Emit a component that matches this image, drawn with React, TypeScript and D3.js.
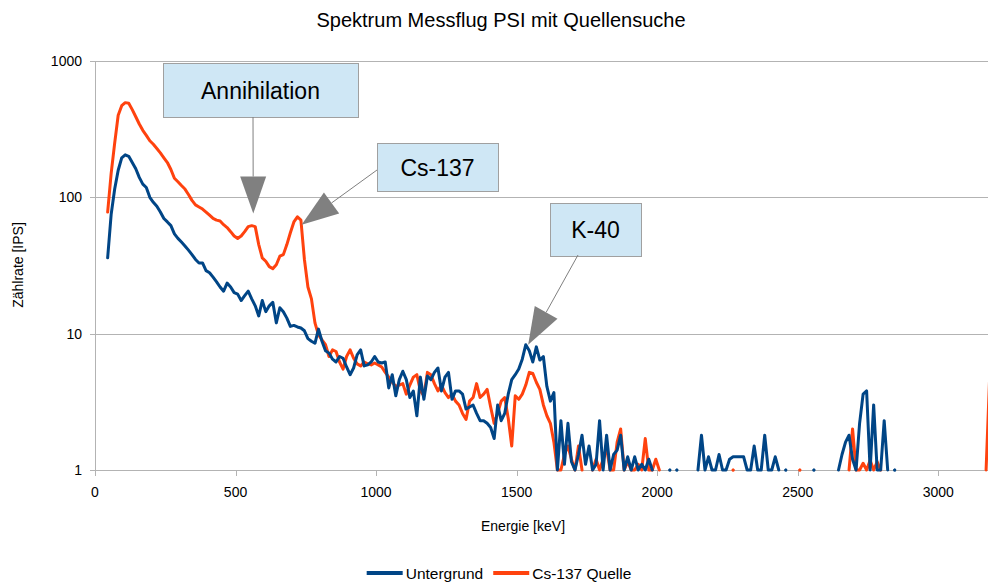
import React, { useRef, useEffect } from 'react';
import * as d3 from 'd3';

// channel grid of the spectrum (keV)
const CHANNEL_START = 45;
const CHANNEL_WIDTH = 12.5;

// count rate [IPS] per channel, 0 = no counts (not drawn on log axis)
const untergrund = [
  36, 75, 115, 158, 195, 205, 200, 180, 162, 140,
  125, 118, 100, 92, 86, 78, 70, 66, 62, 54,
  50, 47, 44, 41, 38, 35, 33, 33, 29, 28,
  26, 24, 22, 20.5, 23.5, 22, 20, 19.5, 17.5, 19,
  20.5, 18, 16, 13.5, 17.5, 14.5, 16, 17, 12, 15.5,
  14.5, 13, 11.3, 11.5, 11.2, 11, 10.5, 9.2, 8.8, 8.5,
  10.8, 8.8, 7.5, 7.2, 6.5, 6.2, 6.8, 6.6, 5.7, 5.0,
  5.6, 7.0, 7.6, 5.8, 5.9, 6.2, 6.8, 6.2, 6.1, 6.2,
  4.0, 5.0, 3.5, 4.6, 5.3, 4.6, 3.4, 3.8, 2.5, 4.8,
  3.3, 4.9, 4.6, 5.2, 5.6, 3.8, 4.8, 5.2, 3.3, 3.8,
  3.8, 3.6, 2.8, 2.9, 3.0, 2.6, 2.3, 2.3, 2.2, 2.05,
  1.7, 3.0, 2.3, 2.6, 3.6, 4.6, 5.0, 5.5, 6.5, 8.3,
  7.5, 6.2, 8.0, 6.4, 6.8, 4.1, 3.2, 3.7, 1.0, 2.3,
  1.1, 2.2, 1.15, 1.0, 1.3, 1.8, 1.1, 1.5, 1.0, 1.1,
  2.3, 1.0, 1.8, 1.0, 1.3, 1.4, 1.8, 1.0, 1.25, 1.0,
  1.25, 1.0, 1.1, 1.0, 1.2, 1.0, 0, 0, 0, 0,
  1, 0, 1, 0, 0, 0, 0, 0, 1.0, 1.8,
  1.0, 1.25, 1.0, 1.0, 1.3, 1.0, 1.0, 1.2, 1.25, 1.25,
  1.25, 1.25, 1.0, 1.0, 1.5, 1.0, 1.0, 1.8, 1.0, 1.0,
  1.25, 1.0, 0, 1, 0, 0, 0, 0, 0, 0,
  0, 1, 0, 0, 0, 0, 0, 0, 1.0, 1.3,
  1.6, 1.8, 1.2, 1.0, 2.2, 3.6, 3.8, 1.0, 3.0, 1.0,
  1.0, 2.3, 1.0, 0, 1, 0, 0, 0, 0, 0,
  0, 0, 0, 0, 0, 0, 0, 0, 0, 0,
  0, 0, 0, 0, 0, 0, 0, 0, 0, 0,
  0, 0,
];

const quelle = [
  78, 150, 250, 400, 470, 495, 490, 440, 390, 345,
  310, 285, 260, 245, 228, 212, 195, 180, 160, 138,
  130, 122, 115, 105, 95, 88, 85, 82, 78, 74,
  70, 68, 67, 63, 60, 56, 52, 50, 52, 56,
  61, 62, 61, 45, 36, 34, 31, 30, 32, 37,
  38, 45, 55, 66, 72, 68, 35, 22, 18, 12,
  9.8, 9.0, 8.3, 6.8, 7.6, 7.4, 6.2, 5.5, 6.8, 7.6,
  6.6, 6.0, 5.8, 6.2, 6.0, 5.9, 6.1, 5.9, 5.7, 5.2,
  4.8, 4.4, 4.1, 4.2, 4.3, 3.6, 4.2, 4.8, 5.0, 3.8,
  3.5, 5.2, 5.0, 4.3, 3.8, 4.2, 3.7, 3.4, 3.6, 3.2,
  3.0, 2.6, 2.35, 3.2, 3.4, 4.3, 3.4, 3.6, 3.9, 2.9,
  2.2, 2.6, 3.2, 3.4, 2.4, 1.5, 3.5, 3.3, 3.6, 4.2,
  5.2, 5.1, 4.4, 3.9, 3.0, 2.5, 2.2, 1.6, 1.0, 1.0,
  1.3, 1.5, 1.2, 1.0, 1.5, 1.0, 0, 0, 1.0, 1.2,
  1.0, 1.2, 1.45, 1.0, 1.0, 1.6, 2.0, 1.0, 1.15, 1.0,
  1.0, 1.1, 1.0, 1.7, 1.0, 1.0, 1.2, 1.0, 0, 0,
  0, 0, 0, 0, 0, 0, 0, 0, 0, 0,
  0, 0, 0, 0, 0, 0, 0, 0, 1, 0,
  0, 0, 0, 0, 0, 0, 0, 0, 0, 0,
  0, 0, 0, 0, 0, 0, 0, 1, 0, 0,
  0, 0, 0, 0, 0, 0, 0, 0, 0, 0,
  0, 1.0, 2.0, 1.0, 1.0, 1.12, 1.0, 1.18, 1.0, 1.15,
  1.0, 0, 0, 0, 0, 0, 0, 0, 0, 0,
  0, 0, 0, 0, 0, 0, 0, 0, 0, 0,
  0, 0, 0, 0, 0, 0, 0, 0, 0, 0,
  1.0, 4.7,
];

const seriesNames = ['Untergrund', 'Cs-137 Quelle'];
const seriesColors = ['#004586', '#ff420e'];

const xTicks = [0, 500, 1000, 1500, 2000, 2500, 3000];
const yTicks = [1, 10, 100, 1000];

// callouts: target peak (energy, rate), box in px, where the leader leaves the box
const callouts = [
  { text: 'Annihilation', energy: 563, rate: 76, box: { x: 163, y: 63, w: 195, h: 54 }, from: [253, 117] },
  { text: 'Cs-137', energy: 735, rate: 63, box: { x: 377, y: 143, w: 121, h: 48 }, from: [377, 170] },
  { text: 'K-40', energy: 1541, rate: 8.3, box: { x: 550, y: 203, w: 91, h: 53 }, from: [578, 255] },
];

const FONT = '"Liberation Sans", Arial, sans-serif';

const App = () => {
  const svgRef = useRef<SVGSVGElement>(null);

  useEffect(() => {
    const width = 988, height = 582;
    const plot = { left: 95, right: 988, top: 61, bottom: 470 };

    const svg = d3.select(svgRef.current);
    svg.selectAll('*').remove();
    svg.attr('width', width).attr('height', height).style('font-family', FONT);

    const x = d3.scaleLinear().domain([0, 3200]).range([plot.left, plot.left + 3200 * 0.2811]);
    const y = d3.scaleLog().domain([1, 1000]).range([plot.bottom, plot.top]);

    const energies = d3.range(untergrund.length).map(i => CHANNEL_START + i * CHANNEL_WIDTH);
    const crisp = (v: number) => Math.round(v) + 0.5;

    // title
    svg.append('text')
      .attr('x', 501).attr('y', 27)
      .attr('text-anchor', 'middle')
      .attr('font-size', 20)
      .text('Spektrum Messflug PSI mit Quellensuche');

    // horizontal grid lines + y tick marks
    svg.append('g').selectAll('line').data(yTicks).join('line')
      .attr('x1', plot.left - 5).attr('x2', plot.right)
      .attr('y1', d => crisp(y(d))).attr('y2', d => crisp(y(d)))
      .attr('stroke', '#b3b3b3');

    // y axis line
    svg.append('line')
      .attr('x1', crisp(plot.left)).attr('x2', crisp(plot.left))
      .attr('y1', plot.top).attr('y2', plot.bottom + 1)
      .attr('stroke', '#b3b3b3');

    // x tick marks
    svg.append('g').selectAll('line').data(xTicks).join('line')
      .attr('x1', d => crisp(x(d))).attr('x2', d => crisp(x(d)))
      .attr('y1', plot.bottom).attr('y2', plot.bottom + 6)
      .attr('stroke', '#b3b3b3');

    // tick labels
    svg.append('g').selectAll('text').data(yTicks).join('text')
      .attr('x', 82).attr('y', d => y(d) + 5)
      .attr('text-anchor', 'end').attr('font-size', 14)
      .text(d => String(d));

    svg.append('g').selectAll('text').data(xTicks).join('text')
      .attr('x', d => x(d)).attr('y', 497)
      .attr('text-anchor', 'middle').attr('font-size', 14)
      .text(d => String(d));

    // axis titles
    svg.append('text')
      .attr('x', 523).attr('y', 531)
      .attr('text-anchor', 'middle').attr('font-size', 14)
      .text('Energie [keV]');

    svg.append('text')
      .attr('transform', 'translate(23,265) rotate(-90)')
      .attr('text-anchor', 'middle').attr('font-size', 14)
      .text('Zählrate [IPS]');

    // spectra (source first, background drawn on top)
    const line = d3.line<number>()
      .defined(v => v > 0)
      .x((_, i) => x(energies[i]))
      .y(v => y(v));

    const allSeries = [untergrund, quelle];
    [1, 0].forEach(s => {
      const values = allSeries[s];
      svg.append('path')
        .datum(values)
        .attr('fill', 'none')
        .attr('stroke', seriesColors[s])
        .attr('stroke-width', 3)
        .attr('stroke-linejoin', 'round')
        .attr('stroke-linecap', 'round')
        .attr('d', line);

      // single channels with empty neighbours
      const lonely = values
        .map((v, i) => ({ v, i }))
        .filter(({ v, i }) => v > 0 && !(values[i - 1] > 0) && !(values[i + 1] > 0));
      svg.append('g').selectAll('circle').data(lonely).join('circle')
        .attr('cx', d => x(energies[d.i]))
        .attr('cy', d => y(d.v))
        .attr('r', 1.5)
        .attr('fill', seriesColors[s]);
    });

    // callouts
    callouts.forEach(c => {
      const g = svg.append('g');
      const tip = [x(c.energy), y(c.rate)];
      const dx = tip[0] - c.from[0], dy = tip[1] - c.from[1];
      const len = Math.hypot(dx, dy);
      const ux = dx / len, uy = dy / len;
      const headLen = 37, headHalf = 13;
      const base = [tip[0] - ux * headLen, tip[1] - uy * headLen];

      g.append('rect')
        .attr('x', c.box.x + 0.5).attr('y', c.box.y + 0.5)
        .attr('width', c.box.w).attr('height', c.box.h)
        .attr('fill', '#cfe7f5').attr('stroke', '#a0a0a0');
      g.append('text')
        .attr('x', c.box.x + c.box.w / 2)
        .attr('y', c.box.y + c.box.h / 2 + 8.5)
        .attr('text-anchor', 'middle').attr('font-size', 23)
        .text(c.text);
      g.append('line')
        .attr('x1', c.from[0]).attr('y1', c.from[1])
        .attr('x2', base[0]).attr('y2', base[1])
        .attr('stroke', '#808080').attr('stroke-width', 1);
      g.append('path')
        .attr('d', d3.line()([
          [tip[0], tip[1]],
          [base[0] - uy * headHalf, base[1] + ux * headHalf],
          [base[0] + uy * headHalf, base[1] - ux * headHalf],
        ]) + 'Z')
        .attr('fill', '#808080');
    });

    // legend, centred below the plot
    const legend = svg.append('g');
    let cursor = 0;
    seriesNames.forEach((name, s) => {
      legend.append('line')
        .attr('x1', cursor).attr('x2', cursor + 36)
        .attr('y1', 0).attr('y2', 0)
        .attr('stroke', seriesColors[s]).attr('stroke-width', 4);
      const t = legend.append('text')
        .attr('x', cursor + 39).attr('y', 5.5)
        .attr('font-size', 15.5)
        .text(name);
      cursor += 39 + (t.node() as SVGTextElement).getComputedTextLength() + 10;
    });
    const legendWidth = cursor - 10;
    legend.attr('transform', `translate(${499 - legendWidth / 2},573)`);
  }, []);

  return (
    <div style={{ position: 'absolute', left: 0, top: 0 }}>
      <svg ref={svgRef}></svg>
    </div>
  );
};

export default App;
